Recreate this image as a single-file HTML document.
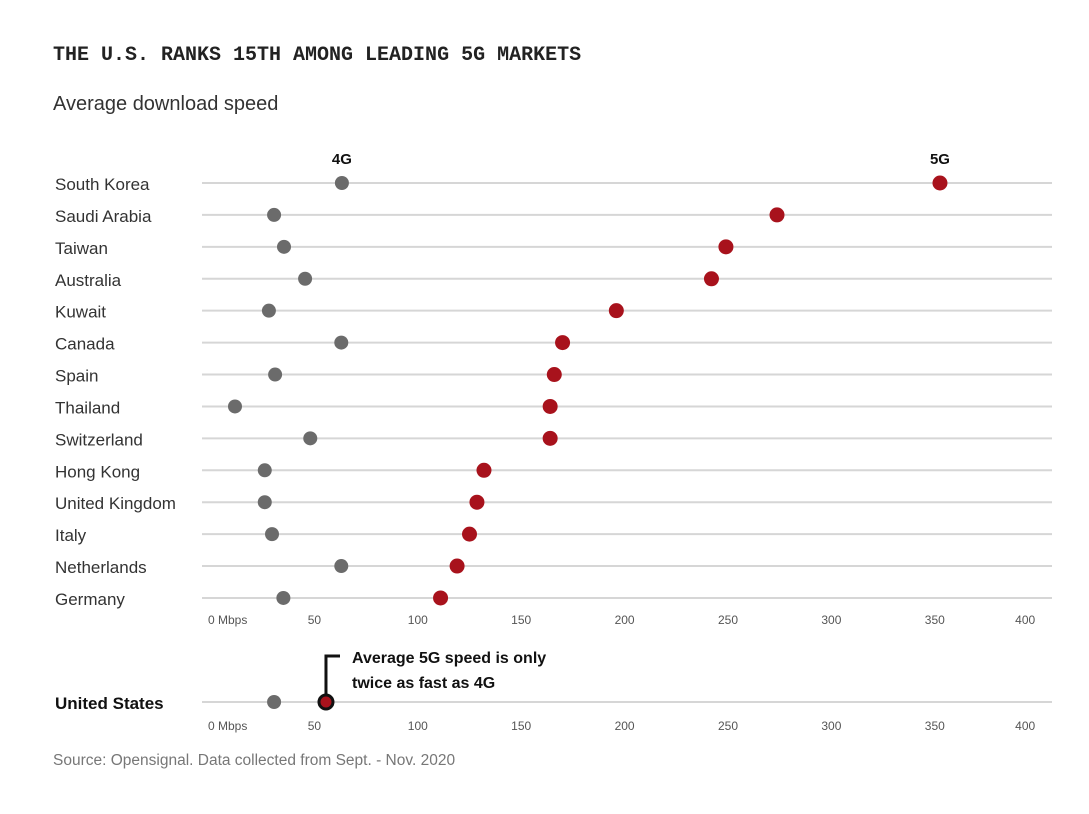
<!DOCTYPE html>
<html><head><meta charset="utf-8"><style>
body{margin:0;background:#fff;width:1089px;height:814px;overflow:hidden}
svg{display:block;font-family:"Liberation Sans",sans-serif}
</style></head><body>
<svg width="1089" height="814" id="chart">
<text x="53" y="60" font-family="Liberation Mono,monospace" font-weight="bold" font-size="20" fill="#222">THE U.S. RANKS 15TH AMONG LEADING 5G MARKETS</text>
<text x="53" y="110" font-size="20" fill="#333">Average download speed</text>
<text x="53" y="765" font-size="15.5" fill="#777">Source: Opensignal. Data collected from Sept. - Nov. 2020</text>
<g id="main"></g>
</svg>
<script>
const countries=["South Korea","Saudi Arabia","Taiwan","Australia","Kuwait","Canada","Spain","Thailand","Switzerland","Hong Kong","United Kingdom","Italy","Netherlands","Germany"];
const speed4g=[63.3,30.5,35.3,45.5,28,63,31,11.6,48,26,26,29.5,63,35];
const speed5g=[352.5,273.7,249,242,196,170,166,164,164,132,128.6,125,119,111];
const usName="United States";
const us4g=30.5;
const us5g=55.6;
const ticks=[0,50,100,150,200,250,300,350,400];
const tickLabels=["0 Mbps","50","100","150","200","250","300","350","400"];
const NS="http://www.w3.org/2000/svg";
const g=document.getElementById('main');
const x=v=>211+v*2.068;
const y=i=>183+i*31.92;
function mk(t,a,p){const e=document.createElementNS(NS,t);for(const k in a)e.setAttribute(k,a[k]);(p||g).appendChild(e);return e;}
function row(name,v4,v5,yy,bold){
  const l=mk('line',{x1:202,x2:1052,y1:yy,y2:yy,stroke:'#d6d6d6','stroke-width':2});
  
  
  const t=mk('text',{x:55,y:yy+7,'font-size':17,fill:bold?'#111':'#333','font-weight':bold?'bold':'normal'});t.textContent=name;
  
  
  const c4=mk('circle',{cx:x(v4),cy:yy,r:7,fill:'#6b6b6b'});
  
  
  const c5=mk('circle',{cx:x(v5),cy:yy,r:bold?7:7.5,fill:'#a8121c',stroke:bold?'#111':'none','stroke-width':bold?3:0});
  
  
  return c5;
}
function axis(yy){
  ticks.forEach((v,i)=>{
    const last=i==ticks.length-1;
    const t=mk('text',{x:i==0?x(v)-3:(last?x(v)-3:x(v)),y:yy,'font-size':12,fill:'#555','text-anchor':i==0?'start':(last?'end':'middle')});
    t.textContent=tickLabels[i];
    
    
  });
}
countries.forEach((c,i)=>row(c,speed4g[i],speed5g[i],y(i),false));
axis(624);
const l4=mk('text',{x:x(speed4g[0]),y:164,'font-size':15,'font-weight':'bold','text-anchor':'middle',fill:'#111'});l4.textContent='4G';


const l5=mk('text',{x:x(speed5g[0]),y:164,'font-size':15,'font-weight':'bold','text-anchor':'middle',fill:'#111'});l5.textContent='5G';


const usY=702;
const ann=mk('path',{d:`M${x(us5g)} ${usY-8} V656 H340`,fill:'none',stroke:'#111','stroke-width':3});


row(usName,us4g,us5g,usY,true);
axis(730);
const a1=mk('text',{x:352,y:663,'font-size':16,'font-weight':'bold',fill:'#111'});a1.textContent='Average 5G speed is only';


const a2=mk('text',{x:352,y:688,'font-size':16,'font-weight':'bold',fill:'#111'});a2.textContent='twice as fast as 4G';


</script>
</body></html>
